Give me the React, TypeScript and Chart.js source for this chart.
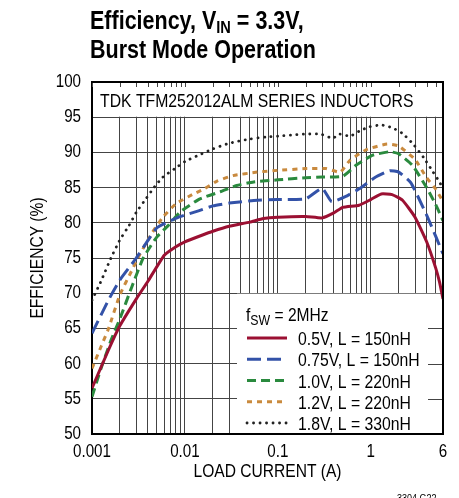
import React, { useEffect, useRef } from "react";
import { Chart, registerables } from "chart.js";

Chart.register(...registerables);

const FONT = '"Liberation Sans", Arial, Helvetica, sans-serif';
const NARROW = 0.82; // Helvetica Narrow look
const NARROW_BOLD = 0.86;
const GRID = "#444";

// ---- data ----
const i05 = [0.001, 0.0015, 0.002, 0.003, 0.004, 0.006, 0.008, 0.01, 0.015, 0.02, 0.03, 0.05, 0.07, 0.1, 0.2, 0.3, 0.4, 0.5, 0.75, 1.0, 1.3, 1.7, 2.2, 3.0, 4.0, 5.0, 5.5, 6];
const eff05 = [56.5, 61.9, 65.4, 69.2, 71.7, 75.4, 76.6, 77.3, 78.2, 78.8, 79.5, 80.1, 80.6, 80.8, 80.9, 80.7, 81.4, 82.2, 82.5, 83.3, 84.1, 84.0, 83.2, 80.8, 77.3, 73.6, 71.6, 69.2];

const i075 = [0.001, 0.0015, 0.002, 0.003, 0.004, 0.005, 0.0065, 0.009, 0.014, 0.02, 0.03, 0.06, 0.1, 0.2, 0.3, 0.38, 0.55, 0.77, 1.1, 1.6, 2.0, 2.7, 4.0, 5.0, 6];
const eff075 = [64.3, 69.0, 71.9, 75.0, 77.5, 79.3, 80.1, 80.9, 81.7, 82.4, 82.8, 83.2, 83.3, 83.4, 84.9, 83.0, 83.8, 84.9, 86.4, 87.4, 87.2, 85.7, 81.1, 78.1, 75.6];

const i10 = [0.001, 0.00125, 0.0016, 0.002, 0.0027, 0.0035, 0.004, 0.005, 0.0066, 0.009, 0.0145, 0.024, 0.036, 0.055, 0.1, 0.2, 0.3, 0.5, 0.7, 1.05, 1.6, 2.0, 2.8, 4.0, 5.0, 6];
const eff10 = [55.3, 59.3, 63.3, 66.4, 71.0, 74.8, 76.1, 78.0, 79.6, 81.6, 83.4, 84.4, 85.3, 85.8, 86.1, 86.4, 86.5, 86.6, 88.2, 89.6, 90.1, 89.8, 88.2, 85.0, 82.6, 80.3];

const i12 = [0.001, 0.00125, 0.0015, 0.002, 0.0027, 0.0033, 0.0045, 0.0058, 0.008, 0.012, 0.016, 0.022, 0.033, 0.06, 0.1, 0.2, 0.33, 0.47, 0.6, 0.9, 1.5, 2.0, 3.0, 4.0, 5.0, 6];
const eff12 = [59.3, 62.4, 64.9, 69.8, 73.3, 75.6, 78.7, 80.8, 82.7, 84.0, 84.8, 85.9, 86.7, 87.2, 87.45, 87.7, 87.7, 87.2, 88.9, 90.4, 91.2, 90.9, 89.0, 86.4, 84.8, 83.0];

const i18 = [0.001, 0.00126, 0.0016, 0.002, 0.0025, 0.003, 0.0038, 0.0047, 0.0058, 0.0078, 0.01, 0.014, 0.02, 0.03, 0.05, 0.075, 0.1, 0.15, 0.2, 0.29, 0.39, 0.46, 0.6, 0.75, 0.95, 1.3, 1.7, 2.2, 2.9, 3.7, 4.7, 5.5, 6];
const eff18 = [69.0, 71.8, 75.0, 77.6, 79.6, 81.5, 83.4, 85.1, 86.5, 87.7, 88.7, 89.6, 90.5, 91.3, 91.9, 92.2, 92.3, 92.5, 92.6, 92.6, 92.0, 92.6, 92.3, 93.0, 93.6, 93.9, 93.5, 92.7, 91.1, 89.3, 87.2, 85.8, 84.8];

const legendLabels = ["0.5V, L = 150nH", "0.75V, L = 150nH", "1.0V, L = 220nH", "1.2V, L = 220nH", "1.8V, L = 330nH"];
const xGridValues = [
  0.001, 0.002, 0.003, 0.004, 0.005, 0.006, 0.007, 0.008, 0.009,
  0.01, 0.02, 0.03, 0.04, 0.05, 0.06, 0.07, 0.08, 0.09,
  0.1, 0.2, 0.3, 0.4, 0.5, 0.6, 0.7, 0.8, 0.9,
  1, 2, 3, 4, 5, 6,
];
const xTickValues = [0.001, 0.01, 0.1, 1, 6];
const xTickLabels = ["0.001", "0.01", "0.1", "1", "6"];
const xTitle = "LOAD CURRENT (A)";
const yTitle = "EFFICIENCY (%)";
const titleLine1 = ["Efficiency, V", "IN", " = 3.3V,"];
const titleLine2 = "Burst Mode Operation";
const boxText = "TDK TFM252012ALM SERIES INDUCTORS";
const fswParts = ["f", "SW", " = 2MHz"];
const credit = "3304 G22";

const pts = (xs: number[], ys: number[]) => xs.map((x, i) => ({ x, y: ys[i] }));

type TOpt = { bold?: boolean; align?: CanvasTextAlign; sx?: number; baseline?: CanvasTextBaseline; rot?: number };
function txt(ctx: CanvasRenderingContext2D, s: string, x: number, y: number, size: number, o: TOpt = {}) {
  const sx = o.sx ?? (o.bold ? NARROW_BOLD : NARROW);
  ctx.save();
  ctx.font = `${o.bold ? "bold " : ""}${size}px ${FONT}`;
  ctx.fillStyle = "#000";
  ctx.textAlign = o.align ?? "left";
  ctx.textBaseline = o.baseline ?? "alphabetic";
  ctx.translate(x, y);
  if (o.rot) ctx.rotate(o.rot);
  ctx.scale(sx, 1);
  ctx.fillText(s, 0, 0);
  const w = ctx.measureText(s).width * sx;
  ctx.restore();
  return w;
}

const overlay = {
  id: "overlay",
  beforeDatasetsDraw(chart: any) {
    const { ctx, chartArea: a, scales } = chart;
    const y95 = scales.y.getPixelForValue(95);
    const y70 = scales.y.getPixelForValue(70);
    ctx.save();
    ctx.fillStyle = "#fff";
    ctx.fillRect(a.left + 1, a.top + 1, a.right - a.left - 2, y95 - a.top - 1.5);
    ctx.fillRect(237, y70 + 0.5, a.right - 237 - 1, a.bottom - y70 - 1.5);
    ctx.strokeStyle = GRID;
    ctx.lineWidth = 1;
    ctx.beginPath();
    for (const v of xGridValues) {
      const px = Math.round(scales.x.getPixelForValue(v)) + 0.5;
      ctx.moveTo(px, a.top);
      ctx.lineTo(px, a.top + 5);
    }
    for (const v of [65, 60, 55]) {
      const py = Math.round(scales.y.getPixelForValue(v)) + 0.5;
      ctx.moveTo(a.right - 15, py);
      ctx.lineTo(a.right, py);
    }
    ctx.stroke();
    ctx.restore();
  },
  afterDraw(chart: any) {
    const { ctx, chartArea: a, scales } = chart;
    ctx.save();
    ctx.strokeStyle = "#000";
    ctx.lineWidth = 2;
    ctx.beginPath();
    ctx.moveTo(a.left, a.top);
    ctx.lineTo(a.right, a.top);
    ctx.lineTo(a.right, a.bottom);
    ctx.stroke();
    ctx.restore();

    for (const t of scales.y.ticks) {
      txt(ctx, String(t.value), 81, scales.y.getPixelForValue(t.value), 18.5, { align: "right", baseline: "middle" });
    }
    xTickValues.forEach((v, k) => {
      txt(ctx, xTickLabels[k], scales.x.getPixelForValue(v), 457, 18.5, { align: "center" });
    });
    txt(ctx, xTitle, (a.left + a.right) / 2, 477, 19, { align: "center" });
    txt(ctx, yTitle, 43, (a.top + a.bottom) / 2, 19, { align: "center", rot: -Math.PI / 2 });

    let x = 90;
    x += txt(ctx, titleLine1[0], x, 29, 25, { bold: true });
    x += txt(ctx, titleLine1[1], x, 33, 17, { bold: true });
    txt(ctx, titleLine1[2], x, 29, 25, { bold: true });
    txt(ctx, titleLine2, 90, 58, 25, { bold: true });

    txt(ctx, boxText, 100, 107, 19, { sx: 0.83 });

    x = 246;
    x += txt(ctx, fswParts[0], x, 321, 19);
    x += txt(ctx, fswParts[1], x, 325, 15);
    txt(ctx, fswParts[2], x, 321, 19);

    chart.data.datasets.forEach((ds: any, i: number) => {
      const base = 345 + i * 21.25;
      const ly = base - 7;
      ctx.save();
      ctx.strokeStyle = ds.borderColor;
      ctx.lineWidth = ds.borderWidth;
      ctx.setLineDash(ds.borderDash || []);
      ctx.lineCap = ds.borderCapStyle || "butt";
      ctx.beginPath();
      ctx.moveTo(247, ly);
      ctx.lineTo(287, ly);
      ctx.stroke();
      ctx.restore();
      txt(ctx, legendLabels[i], 298, base, 19, { sx: 0.83 });
    });

    txt(ctx, credit, 397, 493, 11, { baseline: "top" });
  },
};

export default function App() {
  const ref = useRef<HTMLCanvasElement>(null);
  useEffect(() => {
    if (!ref.current) return;
    const chart = new Chart(ref.current, {
      type: "line",
      data: {
        datasets: [
          { label: legendLabels[0], data: pts(i05, eff05), borderColor: "#9b1032", borderWidth: 3, pointRadius: 0, tension: 0.15, fill: false },
          { label: legendLabels[1], data: pts(i075, eff075), borderColor: "#3352a8", borderWidth: 3, borderDash: [14, 6], pointRadius: 0, tension: 0.15, fill: false },
          { label: legendLabels[2], data: pts(i10, eff10), borderColor: "#2a8a3e", borderWidth: 3, borderDash: [9, 5], pointRadius: 0, tension: 0.15, fill: false },
          { label: legendLabels[3], data: pts(i12, eff12), borderColor: "#c98a3e", borderWidth: 3, borderDash: [5, 5], pointRadius: 0, tension: 0.15, fill: false },
          { label: legendLabels[4], data: pts(i18, eff18), borderColor: "#222", borderWidth: 2.8, borderDash: [0.1, 6.4], borderCapStyle: "round", pointRadius: 0, tension: 0.15, fill: false },
        ] as any,
      },
      options: {
        responsive: false,
        animation: false,
        devicePixelRatio: 1,
        layout: { padding: { left: 0, top: 82, right: 16, bottom: 0 } },
        plugins: { legend: { display: false }, title: { display: false }, tooltip: { enabled: false } },
        scales: {
          x: {
            type: "logarithmic",
            min: 0.001,
            max: 6,
            afterBuildTicks: (s: any) => {
              s.ticks = xGridValues.map((value) => ({ value }));
            },
            afterFit: (s: any) => {
              s.height = 64;
            },
            grid: { color: GRID, lineWidth: 1, drawTicks: false },
            border: { display: true, color: "#000", width: 2 },
            ticks: { display: false, autoSkip: false },
            title: { display: false },
          },
          y: {
            min: 50,
            max: 100,
            afterFit: (s: any) => {
              s.width = 92;
            },
            grid: { color: GRID, lineWidth: 1, drawTicks: false },
            border: { display: true, color: "#000", width: 2 },
            ticks: { display: false, stepSize: 5 },
            title: { display: false },
          },
        },
      } as any,
      plugins: [overlay],
    });
    return () => chart.destroy();
  }, []);
  return (
    <div style={{ position: "fixed", left: 0, top: 0, width: 459, height: 498, background: "#fff" }}>
      <canvas ref={ref} width={459} height={498} style={{ width: 459, height: 498, display: "block" }} />
    </div>
  );
}
